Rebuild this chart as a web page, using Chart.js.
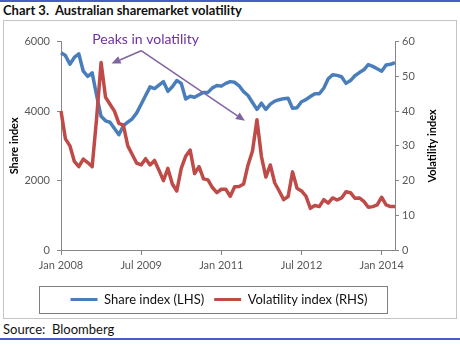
<!DOCTYPE html>
<html>
<head>
<meta charset="utf-8">
<script src="https://cdn.jsdelivr.net/npm/chart.js@4.4.1/dist/chart.umd.min.js"></script>
<style>
  body { margin: 0; width: 460px; height: 345px; overflow: hidden; background: #fff; font-family: Lato, 'Noto Sans', sans-serif; }
  .rule { position: absolute; left: 0; width: 460px; height: 2px; background: #4a5cc8; }
  #title { position: absolute; left: 3px; top: 2px; font-weight: bold; font-size: 13px; color: #111; white-space: pre; }
  #frame { position: absolute; left: 3px; top: 20px; width: 452px; height: 297px; border: 1px solid #c4c4c4; }
  #wrap { position: absolute; left: 0; top: 0; width: 452px; height: 297px; }
  #source { position: absolute; left: 3px; top: 321px; font-size: 13px; color: #111; white-space: pre; }
</style>
</head>
<body>
<div class="rule" style="top:0"></div>
<div id="title">Chart 3.  Australian sharemarket volatility</div>
<div id="frame"><div id="wrap"><canvas id="chart-vol"></canvas></div></div>
<div id="source">Source:  Bloomberg</div>
<div class="rule" style="top:338px"></div>
<script>
// Monthly, Jan 2008 .. Apr 2014
const monthNames = ['Jan','Feb','Mar','Apr','May','Jun','Jul','Aug','Sep','Oct','Nov','Dec'];
const months = [];
for (let i = 0; i < 76; i++) months.push(monthNames[i % 12] + ' ' + (2008 + Math.floor(i / 12)));

const shareIndex = [5680,5600,5350,5550,5650,5150,5000,5100,4450,3850,
  3720,3680,3500,3320,3580,3680,3780,3950,4200,4450,
  4700,4650,4750,4850,4570,4700,4880,4800,4350,4430,
  4400,4470,4540,4540,4670,4740,4720,4800,4850,4830,
  4730,4560,4450,4250,4050,4230,4050,4200,4290,4330,
  4360,4370,4080,4100,4270,4330,4420,4500,4500,4660,
  4930,5050,5030,4990,4800,4880,5020,5110,5190,5340,
  5290,5220,5150,5330,5350,5400];

const volIndex = [40,32,30,25.5,24,26.2,25.2,24,38,54,
  44,42,40,36.5,36,30,27.5,25,24.5,26.3,
  24.5,25.8,23,20,23.5,19,17,23.5,27,28.8,
  22,24,20.5,20.2,18,16.5,17.5,17.5,15.5,18.2,
  18.3,19,24.5,28.5,37.5,27,21,24.5,19.3,17,
  14.5,15.4,22.5,17.8,17,15.5,12,12.8,12.5,14.5,
  13.5,15,14.4,15,16.8,16.5,14.9,15,14,12.3,
  12.5,13,15.2,13,12.5,12.5];

const leftTicks = [0, 2000, 4000, 6000];
const rightTicks = [0, 10, 20, 30, 40, 50, 60];
const peakMonths = [9, 44]; // Oct 2008, Sep 2011
const noteText = 'Peaks in volatility';
const rightTitle = 'Volatility index';

const axisColor = '#868686';
const tickFont = { family: 'Lato', size: 11 };

// arrows + text for the volatility peaks
const peakNote = {
  id: 'peakNote',
  afterDatasetsDraw(chart) {
    const { ctx, chartArea } = chart;
    const x = chart.scales.x, y1 = chart.scales.y1;
    const ox = x.getPixelForValue(18), oy = chartArea.top + 9;
    const tips = [
      [x.getPixelForValue(peakMonths[0]) + 10.5, y1.getPixelForValue(volIndex[peakMonths[0]]) + 1],
      [x.getPixelForValue(peakMonths[1]) - 12, y1.getPixelForValue(volIndex[peakMonths[1]]) + 1]
    ];
    ctx.save();
    ctx.strokeStyle = '#8064a2';
    ctx.fillStyle = '#8064a2';
    ctx.lineWidth = 1.5;
    tips.forEach(([tx, ty]) => {
      const a = Math.atan2(ty - oy, tx - ox);
      const hl = 9, hw = 4;
      const bx = tx - hl * Math.cos(a), by = ty - hl * Math.sin(a);
      ctx.beginPath();
      ctx.moveTo(ox, oy);
      ctx.lineTo(bx, by);
      ctx.stroke();
      ctx.beginPath();
      ctx.moveTo(tx, ty);
      ctx.lineTo(bx + hw * Math.sin(a), by - hw * Math.cos(a));
      ctx.lineTo(bx - hw * Math.sin(a), by + hw * Math.cos(a));
      ctx.closePath();
      ctx.fill();
    });
    ctx.fillStyle = '#7030a0';
    ctx.font = '14px Lato';
    ctx.textAlign = 'center';
    ctx.textBaseline = 'middle';
    ctx.fillText(noteText, x.getPixelForValue(19), chartArea.top - 2);
    ctx.restore();
  }
};

// right axis title, reading bottom to top like the left one
const rightAxisTitle = {
  id: 'rightAxisTitle',
  afterDraw(chart) {
    const { ctx, chartArea } = chart;
    const y1 = chart.scales.y1;
    ctx.save();
    ctx.translate(y1.left + 37, (chartArea.top + chartArea.bottom) / 2);
    ctx.rotate(-Math.PI / 2);
    ctx.fillStyle = '#000';
    ctx.font = 'bold 11px Lato';
    ctx.textAlign = 'center';
    ctx.textBaseline = 'middle';
    ctx.fillText(rightTitle, 0, 0);
    ctx.restore();
  }
};

// border round the legend
const legendFrame = {
  id: 'legendFrame',
  afterDraw(chart) {
    const boxes = chart.legend.legendHitBoxes;
    if (!boxes.length) return;
    const l = Math.min(...boxes.map(b => b.left));
    const r = Math.max(...boxes.map(b => b.left + b.width));
    const cy = boxes[0].top + boxes[0].height / 2;
    const ctx = chart.ctx;
    ctx.save();
    ctx.strokeStyle = '#7f7f7f';
    ctx.lineWidth = 1;
    ctx.strokeRect(Math.round(l - 32) + 0.5, Math.round(cy - 13.5) + 0.5, Math.round(r - l + 51), 27);
    ctx.restore();
  }
};

!function(){
  const ctx = document.getElementById('chart-vol');

  new Chart(ctx, {
    type: 'line',
    data: {
      labels: months,
      datasets: [{
        label: 'Share index (LHS)',
        data: shareIndex,
        yAxisID: 'y',
        borderColor: '#4a7ebb',
        backgroundColor: '#4a7ebb',
        borderWidth: 3.5,
        pointRadius: 0,
        borderJoinStyle: 'round',
        order: 1
      }, {
        label: 'Volatility index (RHS)',
        data: volIndex,
        yAxisID: 'y1',
        borderColor: '#be4b48',
        backgroundColor: '#be4b48',
        borderWidth: 3.5,
        pointRadius: 0,
        borderJoinStyle: 'round',
        order: 0
      }]
    },
    options: {
      responsive: true,
      maintainAspectRatio: false,
      animation: false,
      layout: { padding: { top: 20.7, right: 22, left: 0, bottom: 2 } },
      plugins: {
        tooltip: { enabled: false },
        legend: {
          position: 'bottom',
          labels: {
            boxWidth: 27,
            boxHeight: 3,
            padding: 10,
            color: '#111',
            font: { family: 'Lato', size: 13 },
            sort: (a, b) => a.datasetIndex - b.datasetIndex,
            generateLabels(chart) {
              return Chart.defaults.plugins.legend.labels.generateLabels(chart)
                .map(l => Object.assign(l, { lineWidth: 0, fillStyle: l.strokeStyle }));
            }
          }
        }
      },
      scales: {
        x: {
          type: 'category',
          offset: false,
          grid: { display: true, drawOnChartArea: false, tickLength: 5, color: axisColor },
          border: { color: axisColor },
          ticks: {
            autoSkip: false,
            maxRotation: 0,
            padding: 4,
            color: '#595959',
            font: tickFont,
            callback: (v, i) => (i % 18 === 0 ? months[i] : null)
          },
          afterFit: s => { s.height = 33; }
        },
        y: {
          position: 'left',
          min: 0,
          max: 6000,
          afterBuildTicks: s => { s.ticks = leftTicks.map(v => ({ value: v })); },
          grid: { drawOnChartArea: false, tickLength: 4, color: axisColor },
          border: { color: axisColor },
          ticks: { padding: 7, color: '#595959', font: tickFont, callback: v => String(v) },
          title: { display: true, text: 'Share index', color: '#000', font: { family: 'Lato', size: 11, weight: 'bold' }, padding: { top: 3.4, bottom: 0 } },
          afterFit: s => { s.width = 57; }
        },
        y1: {
          position: 'right',
          min: 0,
          max: 60,
          afterBuildTicks: s => { s.ticks = rightTicks.map(v => ({ value: v })); },
          grid: { drawOnChartArea: false, tickLength: 4, color: axisColor },
          border: { color: axisColor },
          ticks: { padding: 3, color: '#595959', font: tickFont, callback: v => String(v) },
          afterFit: s => { s.width = 39; }
        }
      }
    },
    plugins: [peakNote, rightAxisTitle, legendFrame]
  });
}();
</script>
</body>
</html>
